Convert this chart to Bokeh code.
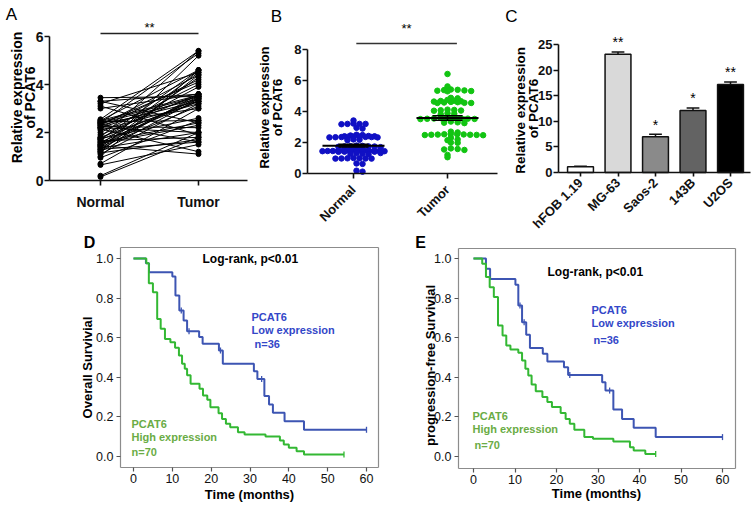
from math import pi, sqrt
from bokeh.plotting import figure
from bokeh.models import Label, FixedTicker, Range1d, LinearAxis
from bokeh.layouts import row, column
from bokeh.embed import file_html
from bokeh.resources import INLINE

FONT = "Liberation Sans"

# ---------------- data ----------------
# Panel A: paired samples (normal -> tumor)
a_normal = [3.45, 3.3, 3.2, 3.1, 3.0, 3.3,
            2.55, 2.5, 2.45, 2.4, 2.4, 2.35, 2.3, 2.3, 2.25, 2.2, 2.2, 2.15, 2.1, 2.0,
            1.9, 2.45, 2.35, 2.2, 2.5, 2.4,
            1.8, 1.75, 1.7, 1.7, 1.65, 1.6, 1.55, 1.5, 1.5, 1.45, 1.4, 1.4, 1.35, 1.3,
            1.25, 1.2, 1.15, 1.1, 1.0, 0.95, 1.8, 1.6, 1.45, 1.3, 1.2, 1.75,
            0.7, 0.65, 0.2, 0.15]
a_tumor = [3.5, 2.4, 4.5, 1.9, 3.6, 3.6,
           5.4, 4.6, 2.5, 3.4, 5.3, 1.6, 4.4, 3.3, 2.2, 4.2, 3.5, 1.2, 3.2, 4.0,
           3.6, 3.5, 4.1, 2.0, 3.55, 3.0,
           5.4, 2.6, 3.4, 4.6, 1.8, 3.3, 2.3, 4.5, 3.5, 1.1, 3.1, 4.3, 2.0, 3.6,
           5.2, 3.4, 1.7, 3.2, 4.6, 2.5, 3.3, 2.4, 3.45, 1.6, 4.4, 3.9,
           3.0, 1.5, 2.0, 1.8]
groups = ["Normal", "Tumor"]

# Panel B: scatter dot plot
b_normal = [3.42, 3.2, 3.2, 3.18, 3.22, 3.2, 2.95, 2.9,
            2.5, 2.48, 2.45, 2.42, 2.4, 2.4, 2.38, 2.38, 2.36, 2.36, 2.35, 2.35, 2.34, 2.33, 2.33,
            2.2, 2.18, 2.15,
            1.8, 1.78, 1.76, 1.75, 1.75, 1.74, 1.72, 1.7,
            1.55, 1.52, 1.5, 1.5, 1.48, 1.47, 1.46, 1.46, 1.45, 1.45, 1.45, 1.44, 1.44, 1.43,
            1.43, 1.42, 1.42, 1.41, 1.41, 1.4,
            1.32, 1.3, 1.28, 1.26, 1.25,
            1.0, 0.98, 0.98, 0.97, 0.97, 0.96, 0.96,
            0.65, 0.62, 0.18, 0.12]
b_tumor = [6.42, 5.62,
           5.42, 5.4, 5.38, 5.36, 5.34, 5.32, 5.3,
           4.88, 4.85,
           4.75, 4.7, 4.68, 4.66, 4.64, 4.62, 4.6, 4.58, 4.56, 4.55, 4.55,
           4.12, 4.1, 4.08, 4.06, 4.05,
           3.88, 3.85, 3.82,
           3.62, 3.6, 3.58, 3.56, 3.55, 3.54, 3.53, 3.52, 3.51, 3.5, 3.5, 3.49, 3.48,
           3.35, 3.3, 3.28, 3.25,
           2.7, 2.65,
           2.55, 2.54, 2.53, 2.52, 2.51, 2.5, 2.5, 2.49, 2.48, 2.47,
           2.3, 2.2, 2.15, 2.0, 1.98,
           1.62, 1.58, 1.55, 1.52, 1.2, 1.05]

# Panel C: cell lines
c_lines = ["hFOB 1.19", "MG-63", "Saos-2", "143B", "U2OS"]
c_values = [1.1, 23.1, 7.0, 12.1, 17.2]
c_errors = [0.1, 0.45, 0.45, 0.5, 0.5]
c_signif = ["", "**", "*", "*", "**"]
c_colors = ["#ffffff", "#d9d9d9", "#8a8a8a", "#636363", "#000000"]

# Panel D: overall survival (event times, survival after event, censor times)
d_low_t = [0, 3.2, 4.0, 10.0, 10.8, 11.8, 12.9, 13.8, 16.9, 17.8, 22.0, 23.0,
           31.0, 31.9, 33.7, 34.9, 35.9, 38.9, 43.9]
d_low_s = [1.0, 0.976, 0.931, 0.909, 0.813, 0.737, 0.687, 0.633, 0.603, 0.569, 0.535, 0.468,
           0.431, 0.392, 0.305, 0.263, 0.221, 0.178, 0.135]
d_low_end = 60
d_low_cens = [12.3, 14.3, 22.4, 33.0, 60]
d_high_t = [0, 3.3, 3.95, 5.0, 6.1, 7.0, 8.1, 9.5, 10.7, 11.7, 12.5, 13.2, 13.8, 14.7,
            17.0, 17.9, 19.0, 19.8, 21.9, 22.8, 23.8, 24.9, 26.9, 28.6, 34.0, 37.7, 38.7,
            40.0, 42.0, 43.9]
d_high_s = [1.0, 0.976, 0.875, 0.83, 0.695, 0.645, 0.594, 0.577, 0.549, 0.51, 0.468, 0.443,
            0.41, 0.367, 0.342, 0.308, 0.286, 0.249, 0.219, 0.19, 0.165, 0.148, 0.123,
            0.111, 0.101, 0.081, 0.061, 0.044, 0.027, 0.010]
d_high_end = 54.2
d_high_cens = [54.2]

# Panel E: progression-free survival
e_low_t = [0, 3.0, 4.0, 10.1, 10.8, 11.7, 12.7, 13.6, 16.7, 17.8, 21.8, 22.8, 31.0,
           31.8, 33.7, 35.8, 38.6, 43.9]
e_low_s = [1.0, 0.948, 0.897, 0.867, 0.763, 0.678, 0.615, 0.548, 0.519, 0.48, 0.451,
           0.412, 0.375, 0.333, 0.237, 0.19, 0.145, 0.098]
e_low_end = 60
e_low_cens = [11.2, 12.2, 23.2, 32.8, 60]
e_high_t = [0, 2.1, 3.0, 3.9, 4.9, 5.9, 7.0, 7.9, 8.9, 10.8, 11.7, 12.5, 13.2, 14.0,
            15.0, 16.6, 17.8, 18.9, 21.0, 22.2, 23.2, 24.3, 26.7, 28.8, 33.7, 37.7,
            38.6, 41.4]
e_high_s = [1.0, 0.973, 0.906, 0.855, 0.805, 0.661, 0.611, 0.561, 0.540, 0.524, 0.485,
            0.443, 0.409, 0.364, 0.33, 0.30, 0.275, 0.25, 0.22, 0.19, 0.165, 0.135,
            0.098, 0.09, 0.076, 0.047, 0.03, 0.013]
e_high_end = 43.9
e_high_cens = [43.9]

km_ticks_x = [0, 10, 20, 30, 40, 50, 60]
km_ticks_y = [0.0, 0.2, 0.4, 0.6, 0.8, 1.0]

BLUE_DOT = "#1010c4"
GREEN_DOT = "#12c412"
KM_BLUE = "#3d55b3"
KM_GREEN = "#33b833"
TXT_BLUE = "#3347c8"
TXT_GREEN = "#6aac45"
BOX_GRAY = "#8c8c8c"


# ---------------- helpers ----------------
class Panel:
    """page-pixel geometry of a panel <-> data coordinates"""
    def __init__(self, box, xa_px, xa_v, sx, ya_px, ya_v, sy):
        self.box = box
        self.xa_px, self.xa_v, self.sx = xa_px, xa_v, sx
        self.ya_px, self.ya_v, self.sy = ya_px, ya_v, sy

    def x(self, px):
        return self.xa_v + (px - self.xa_px) / self.sx

    def y(self, py):
        return self.ya_v + (self.ya_px - py) / self.sy

    def figure(self):
        x0, x1, y0, y1 = self.box
        p = figure(width=x1 - x0, height=y1 - y0,
                   x_range=Range1d(self.x(x0), self.x(x1)),
                   y_range=Range1d(self.y(y1), self.y(y0)),
                   output_backend="svg", toolbar_location=None, tools="", title=None,
                   min_border_left=0, min_border_right=0,
                   min_border_top=0, min_border_bottom=0)
        p.grid.visible = False
        p.outline_line_color = None
        p.background_fill_color = "white"
        p.border_fill_color = "white"
        return p


def text(p, x, y, s, size, bold=False, color="black", angle=0, align="center",
         baseline="middle"):
    p.add_layout(Label(x=x, y=y, text=s, text_font=FONT, text_font_size=f"{size}px",
                       text_font_style="bold" if bold else "normal", text_color=color,
                       angle=angle, text_align=align, text_baseline=baseline))


def style_axis(ax, size, bold, color="#111111", width=1.6, tick_out=5, standoff=2):
    ax.axis_line_width = width
    ax.axis_line_color = color
    ax.major_tick_line_width = width
    ax.major_tick_line_color = color
    ax.major_tick_out = tick_out
    ax.major_tick_in = 0
    ax.minor_tick_line_color = None
    ax.major_label_text_font = FONT
    ax.major_label_text_font_style = "bold" if bold else "normal"
    ax.major_label_text_font_size = f"{size}px"
    ax.major_label_text_color = "#111111"
    ax.major_label_standoff = standoff


def prism_axes(p, pn, frame, ymax, size):
    L, R, T, B = frame
    xa, ya = p.xaxis[0], p.yaxis[0]
    ya.fixed_location = pn.x(L)
    ya.bounds = (0, ymax)
    xa.fixed_location = pn.y(B)
    xa.bounds = (pn.x(L), pn.x(R))
    style_axis(xa, size, True)
    style_axis(ya, size, True, standoff=1)


def swarm(values, center, step, max_half, tol):
    vals = sorted(values, reverse=True)
    rows = []
    for v in vals:
        if rows and rows[-1][0] - v <= tol:
            rows[-1].append(v)
        else:
            rows.append([v])
    xs, ys = [], []
    for r in rows:
        n = len(r)
        sp = step if n == 1 else min(step, 2 * max_half / (n - 1))
        shift = 0 if n % 2 else 0.5
        for k, v in enumerate(r):
            slot = (k + 1) // 2 * (1 if k % 2 else -1)
            xs.append(center + (slot + (shift if n > 1 else 0)) * sp)
            ys.append(v)
    return xs, ys


def surv_at(times, surv, t):
    s = surv[0]
    for ti, si in zip(times, surv):
        if ti <= t:
            s = si
    return s


TOP_H = 231

# ---------------- Panel A ----------------
pnA = Panel((0, 255, 0, TOP_H), 100, 1, 98, 180, 0, 24)
pA = pnA.figure()
pA.multi_line(xs=[[1, 2] for _ in a_normal],
              ys=[[n, t] for n, t in zip(a_normal, a_tumor)],
              line_color="black", line_width=1)
pA.scatter(x=[1] * len(a_normal) + [2] * len(a_tumor), y=a_normal + a_tumor,
           size=5, color="black")
prism_axes(pA, pnA, (49, 247, 36, 180), 6, 14)
pA.yaxis.ticker = FixedTicker(ticks=[0, 2, 4, 6])
pA.xaxis.ticker = FixedTicker(ticks=[1, 2])
pA.xaxis.major_label_overrides = {1: groups[0], 2: groups[1]}
pA.xaxis.major_label_standoff = 8
pA.segment(x0=[1], x1=[2], y0=[pnA.y(33)], y1=[pnA.y(33)], line_color="#222222",
           line_width=1.5)
text(pA, 1.5, pnA.y(27), "**", 13)
text(pA, pnA.x(11), pnA.y(14), "A", 17)
text(pA, pnA.x(16), pnA.y(97), "Relative expression", 14, bold=True, angle=pi / 2)
text(pA, pnA.x(29), pnA.y(97), "of PCAT6", 14, bold=True, angle=pi / 2)

# ---------------- Panel B ----------------
pnB = Panel((255, 503, 0, TOP_H), 353, 1, 94, 173, 0, 15.5)
pB = pnB.figure()
xn, yn = swarm(b_normal, 1, 0.064, 0.33, 0.12)
xt, yt = swarm(b_tumor, 2, 0.072, 0.31, 0.12)
pB.scatter(xn, yn, size=5.5, color=BLUE_DOT)
pB.scatter(xt, yt, size=5.5, color=GREEN_DOT)


def mean_sem(v):
    m = sum(v) / len(v)
    sd = sqrt(sum((x - m) ** 2 for x in v) / (len(v) - 1))
    return m, sd / sqrt(len(v))


for ctr, vals in ((1, b_normal), (2, b_tumor)):
    m, se = mean_sem(vals)
    pB.segment(x0=[ctr - 0.33], x1=[ctr + 0.33], y0=[m], y1=[m], line_color="black",
               line_width=2)
    pB.segment(x0=[ctr - 0.16, ctr - 0.16, ctr], x1=[ctr + 0.16, ctr + 0.16, ctr],
               y0=[m - se, m + se, m - se], y1=[m - se, m + se, m + se],
               line_color="black", line_width=1.5)
prism_axes(pB, pnB, (307, 497, 49, 173), 8, 13)
pB.yaxis.ticker = FixedTicker(ticks=[0, 2, 4, 6, 8])
pB.xaxis.ticker = FixedTicker(ticks=[1, 2])
pB.xaxis.major_label_overrides = {1: groups[0], 2: groups[1]}
pB.xaxis.major_label_orientation = pi / 4
pB.xaxis.major_label_standoff = 9
pB.segment(x0=[1.03], x1=[2.1], y0=[pnB.y(43)], y1=[pnB.y(43)], line_color="#333333",
           line_width=1.5)
text(pB, 1.565, pnB.y(28), "**", 13)
text(pB, pnB.x(276), pnB.y(16), "B", 17)
text(pB, pnB.x(264), pnB.y(107), "Relative expression", 13, bold=True, angle=pi / 2)
text(pB, pnB.x(277), pnB.y(107), "of PCAT6", 13, bold=True, angle=pi / 2)

# ---------------- Panel C ----------------
pnC = Panel((503, 753, 0, TOP_H), 580, 0, 37.5, 172, 0, 5.12)
pC = pnC.figure()
idx = list(range(len(c_lines)))
pC.vbar(x=idx, top=c_values, width=0.69, fill_color=c_colors, line_color="#111111",
        line_width=1.5)
tops = [v + e for v, e in zip(c_values, c_errors)]
pC.segment(x0=idx, x1=idx, y0=c_values, y1=tops, line_color="#111111", line_width=1.5)
pC.segment(x0=[i - 0.17 for i in idx], x1=[i + 0.17 for i in idx], y0=tops, y1=tops,
           line_color="#111111", line_width=1.5)
for i, s in enumerate(c_signif):
    if s:
        text(pC, i, tops[i] + 0.3, s, 14, baseline="bottom")
prism_axes(pC, pnC, (558, 750, 44, 172), 25, 13)
pC.yaxis.ticker = FixedTicker(ticks=[0, 5, 10, 15, 20, 25])
pC.xaxis.ticker = FixedTicker(ticks=idx)
pC.xaxis.major_label_overrides = {i: c for i, c in enumerate(c_lines)}
pC.xaxis.major_label_orientation = pi / 4
pC.xaxis.major_label_standoff = 4
pC.xaxis.major_tick_out = 4
text(pC, pnC.x(511), pnC.y(16), "C", 17)
text(pC, pnC.x(520), pnC.y(108), "Relative  expression", 13.5, bold=True, angle=pi / 2)
text(pC, pnC.x(533), pnC.y(108), "of PCAT6", 13.5, bold=True, angle=pi / 2)


# ---------------- Panels D / E ----------------
def box_axis(loc, bounds):
    ax = LinearAxis(fixed_location=loc, bounds=bounds, ticker=FixedTicker(ticks=[]))
    ax.axis_line_color = BOX_GRAY
    ax.axis_line_width = 1.2
    ax.major_tick_line_color = None
    ax.minor_tick_line_color = None
    ax.major_label_text_font_size = "0px"
    return ax


def km_panel(pn, frame, low, high, ytitle, letter, letter_px, ytitle_px, xtitle_px,
             logrank_px, low_lines, high_lines):
    L, R, T, B = frame
    p = pn.figure()
    for (times, surv, end, cens), col in ((low, KM_BLUE), (high, KM_GREEN)):
        p.step(times + [end], surv + [surv[-1]], mode="after", line_color=col,
               line_width=2)
        p.scatter(cens, [surv_at(times, surv, c) for c in cens], marker="dash",
                  angle=pi / 2, size=6, line_color=col, line_width=1.3)
    xa, ya = p.xaxis[0], p.yaxis[0]
    xa.fixed_location = pn.y(B)
    xa.bounds = (pn.x(L), pn.x(R))
    ya.fixed_location = pn.x(L)
    ya.bounds = (pn.y(B), pn.y(T))
    style_axis(xa, 12.5, False, color=BOX_GRAY, width=1.2, tick_out=4, standoff=2)
    style_axis(ya, 12.5, False, color=BOX_GRAY, width=1.2, tick_out=4, standoff=3)
    xa.major_tick_line_color = "#555555"
    ya.major_tick_line_color = "#555555"
    xa.ticker = FixedTicker(ticks=km_ticks_x)
    ya.ticker = FixedTicker(ticks=km_ticks_y)
    ya.major_label_overrides = {v: f"{v:.1f}" for v in km_ticks_y}
    p.add_layout(box_axis(pn.y(T), (pn.x(L), pn.x(R))), "above")
    p.add_layout(box_axis(pn.x(R), (pn.y(B), pn.y(T))), "right")
    text(p, pn.x(letter_px[0]), pn.y(letter_px[1]), letter, 16, bold=True)
    text(p, pn.x(ytitle_px[0]), pn.y(ytitle_px[1]), ytitle, 13, bold=True, angle=pi / 2)
    text(p, pn.x(xtitle_px[0]), pn.y(xtitle_px[1]), "Time (months)", 13, bold=True)
    text(p, pn.x(logrank_px[0]), pn.y(logrank_px[1]), "Log-rank, p<0.01", 12, bold=True,
         align="left")
    for (lx, ly, s) in low_lines:
        text(p, pn.x(lx), pn.y(ly), s, 11, bold=True, color=TXT_BLUE, align="left")
    for (hx, hy, s) in high_lines:
        text(p, pn.x(hx), pn.y(hy), s, 11, bold=True, color=TXT_GREEN, align="left")
    return p


pnD = Panel((0, 385, TOP_H, 505), 133, 0, 233 / 60, 456, 0, 198)
pD = km_panel(pnD, (120, 378, 247, 467),
              (d_low_t, d_low_s, d_low_end, d_low_cens),
              (d_high_t, d_high_s, d_high_end, d_high_cens),
              "Overall Survivial", "D", (89, 242), (87, 367), (249, 494), (202, 258),
              [(251, 316, "PCAT6"), (251, 329, "Low expression"), (254, 343, "n=36")],
              [(131, 423, "PCAT6"), (131, 436, "High expression"), (131, 451, "n=70")])

pnE = Panel((385, 753, TOP_H, 505), 473, 0, 249 / 60, 456, 0, 198)
pE = km_panel(pnE, (458, 735, 248, 468),
              (e_low_t, e_low_s, e_low_end, e_low_cens),
              (e_high_t, e_high_s, e_high_end, e_high_cens),
              "progression-free Survivial", "E", (420, 242), (430, 365), (596, 493),
              (547, 271),
              [(591, 309, "PCAT6"), (591, 322, "Low expression"), (593, 339, "n=36")],
              [(472, 415, "PCAT6"), (472, 428, "High expression"), (474, 444, "n=70")])

layout = column(row(pA, pB, pC), row(pD, pE))
open("out.html", "w").write(file_html(layout, INLINE))
